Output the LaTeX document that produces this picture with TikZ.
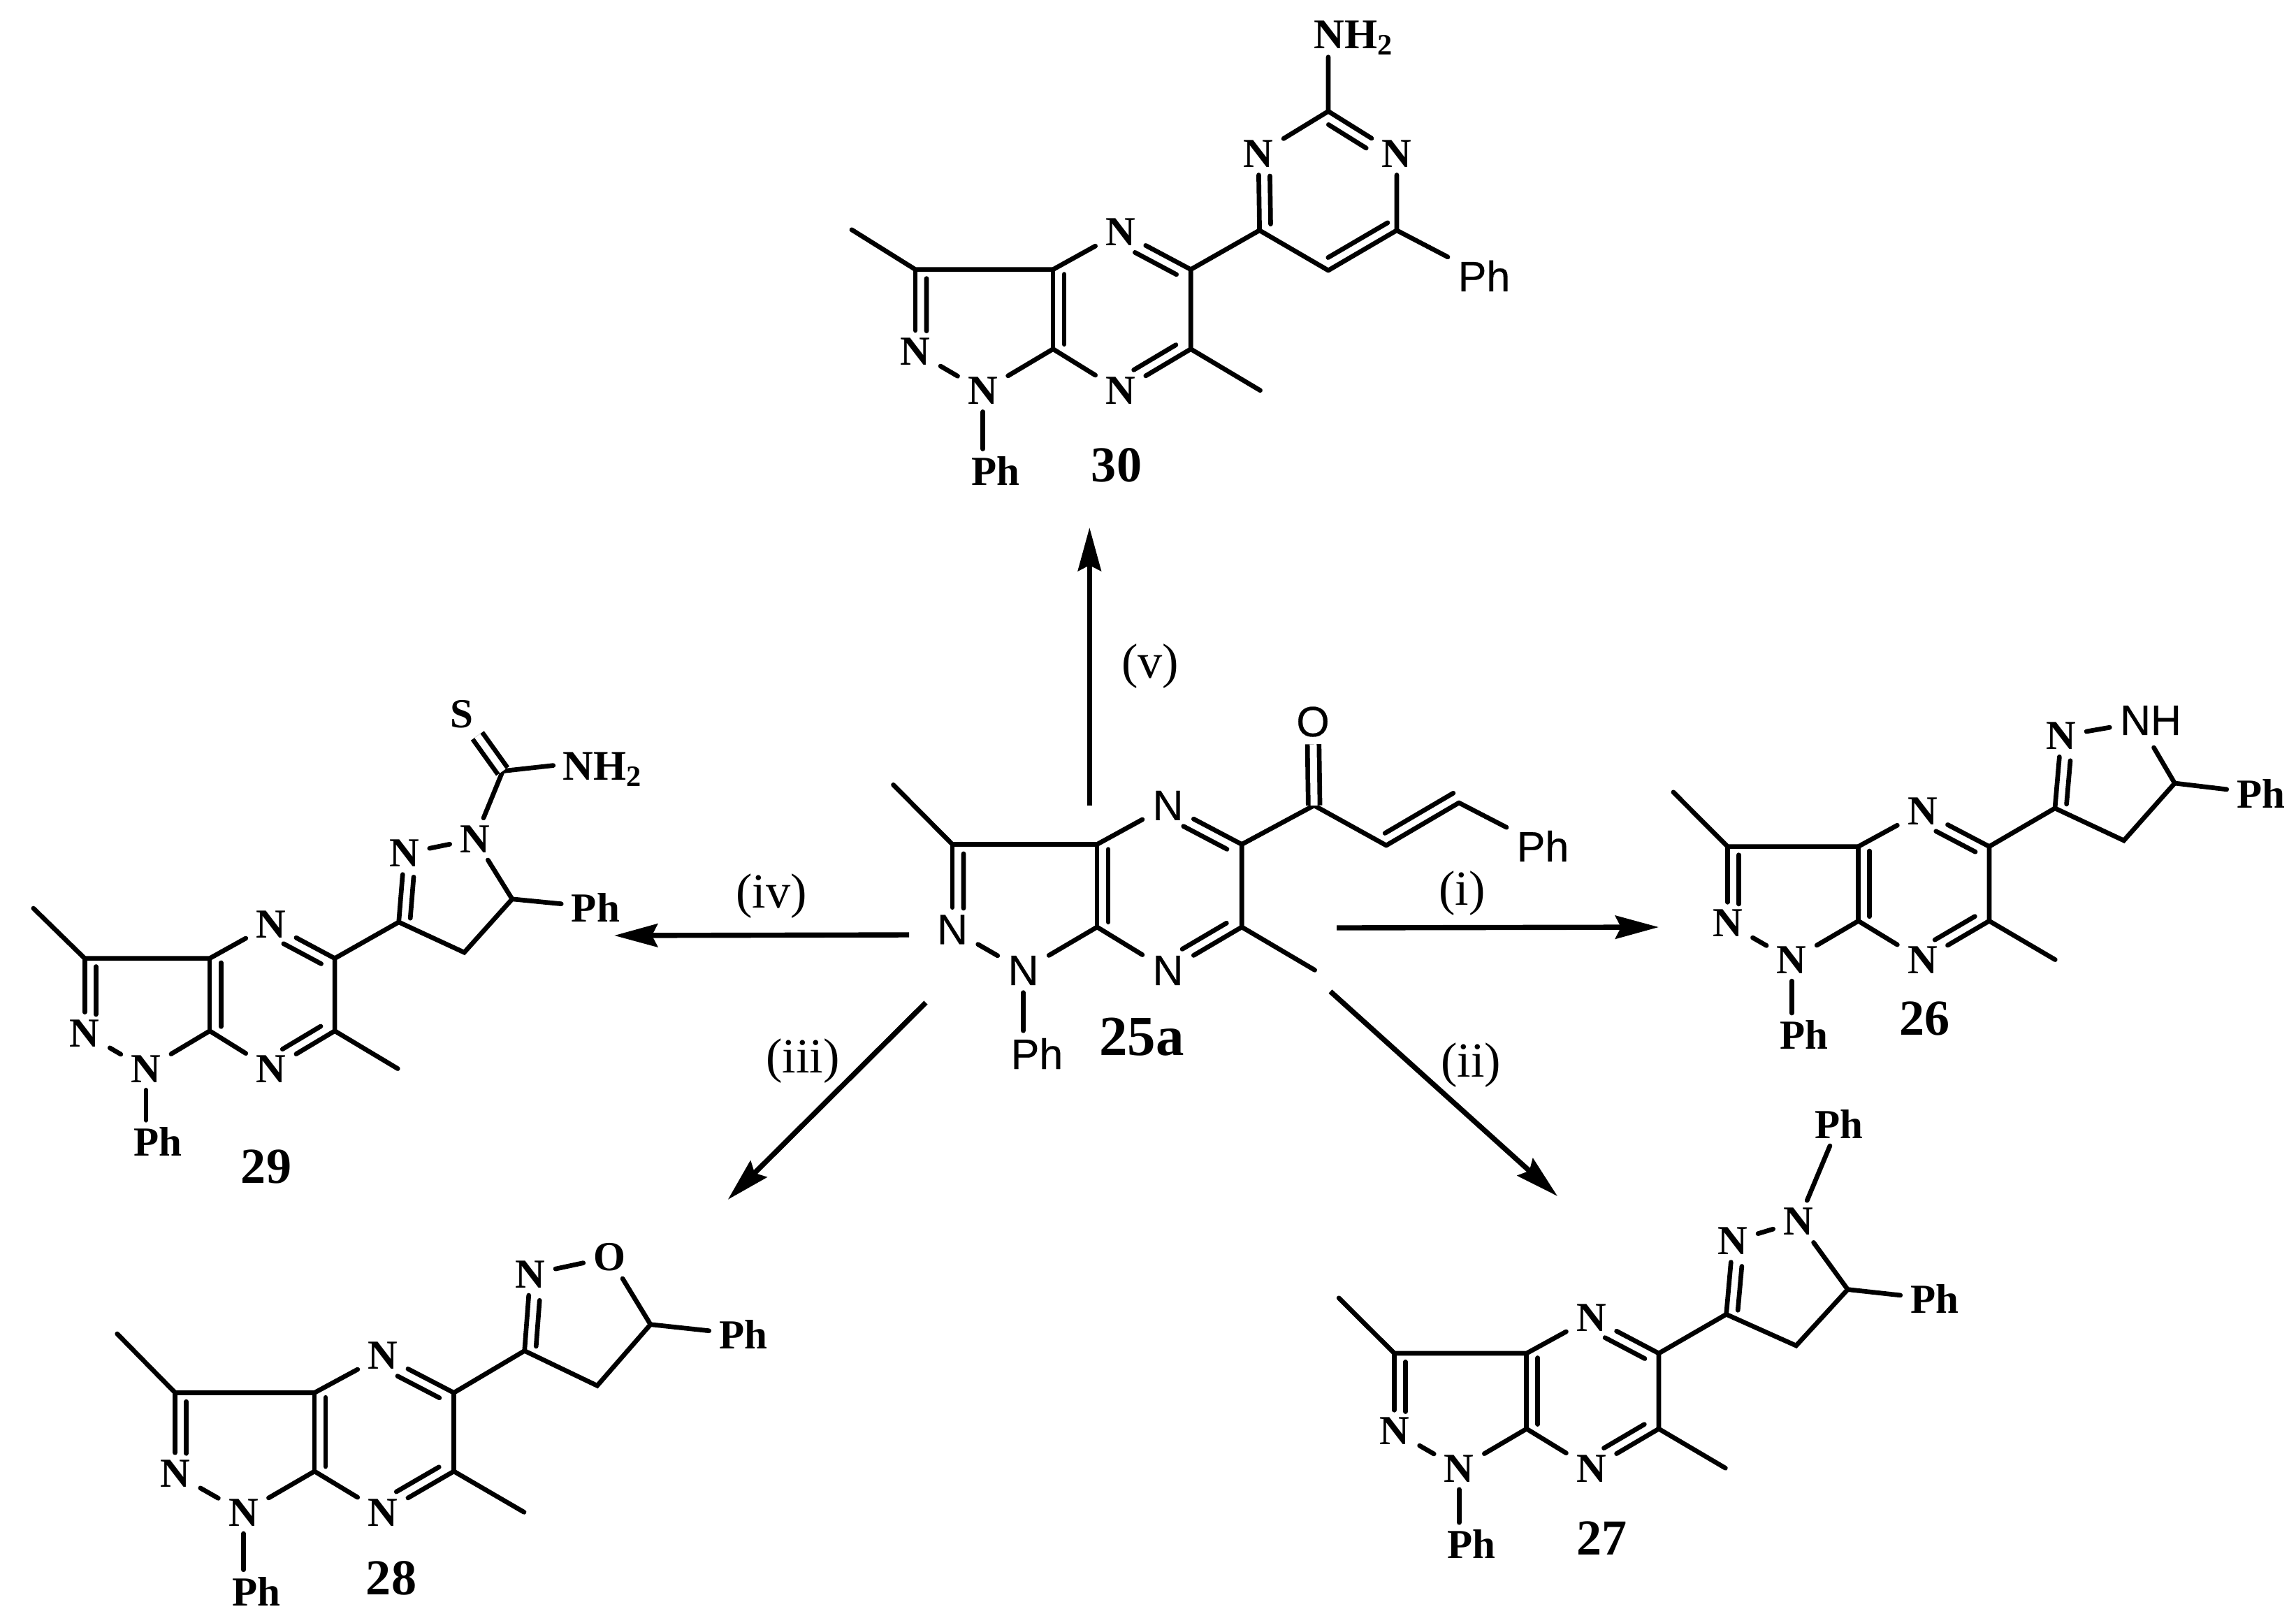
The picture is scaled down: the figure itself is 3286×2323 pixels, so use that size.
\documentclass[tikz,border=0pt]{standalone}
\usepackage{fontspec}
\setmainfont{Liberation Serif}
\setsansfont{Liberation Sans}[FakeBold=.4]
\usetikzlibrary{arrows.meta,calc}
\tikzset{atom/.style = {font=\bfseries\fontsize{16.8}{18}\selectfont, inner xsep=.14cm, inner ysep=.1cm},
         sansatom/.style = {font=\sffamily\fontsize{17.3}{19}\selectfont, inner xsep=.14cm, inner ysep=.1cm},
         amine/.style = {font=\bfseries\fontsize{17.2}{19}\selectfont, anchor=base west, inner sep=0pt},
         bond/.style = {line width=1.9pt, line cap=round},
         cbond/.style = {line width=1.9pt, line cap=butt, double, double distance=.1cm},
         react/.style = {-{Stealth[length=.62cm,width=.33cm,inset=.08cm]}, line width=2.1pt},
         molnum/.style = {font=\bfseries\fontsize{20.5}{22}\selectfont},
         cond/.style = {font=\fontsize{20}{22}\selectfont}}
\newcommand{\dbond}[4]{\draw[bond](#1)--(#2);
  \draw[bond]($(#1)!#3!(#2)!.16cm!90:(#2)$)--($(#1)!#4!(#2)!.16cm!-90:(#1)$);}
\newcommand{\pzcore}[7]{
  \begin{scope}[shift={(#2,#3)},x=#4cm,y=-#5cm]
    \coordinate(#1c3)at(0,0);
    \coordinate(#1c3a)at(.5,0);
    \coordinate(#1c5)at(1,0);
    \coordinate(#1c6)at(1,1);
    \coordinate(#1c7a)at(.5,1);
    \coordinate(#1mea)at(#6,#7);
    \coordinate(#1meb)at(1.252,1.52);
    \node[atom](#1n4)at(.745,-.47){N};
    \node[atom](#1n7)at(.745,1.525){N};
    \node[atom](#1n1)at(.245,1.525){N};
    \node[atom](#1n2)at(0,1.03){N};
    \node[atom](#1ph)at(.292,2.53){Ph};
  \end{scope}
  \draw[bond](#1mea)--(#1c3)--(#1c3a)--(#1n4);
  \draw[bond](#1c5)--(#1c6)--(#1meb);
  \draw[bond](#1n2)--(#1n1)--(#1c7a)--(#1n7);
  \draw[bond](#1n1)--(#1n1|-#1ph.north);
  \dbond{#1c3}{#1n2}{.11}{.75}
  \dbond{#1c3a}{#1c7a}{.06}{.94}
  \dbond{#1c5}{#1n4}{.13}{.72}
  \dbond{#1n7}{#1c6}{.27}{.87}}
\begin{document}
\begin{tikzpicture}[x=.01cm,y=-.01cm]
    \useasboundingbox(0,0)rectangle(3286,2323);

    % 25a
    \begin{scope}[atom/.style=sansatom]
        \pzcore{a}{1363}{1208.5}{4.14}{1.183}{-.204}{-.72}
    \end{scope}
    \coordinate(ac8)at(1880.7,1152.8);
    \coordinate(ac9)at(1984,1210);
    \coordinate(ac10)at(2088,1149);
    \node[sansatom](ao)at(1879,1033){O};
    \node[sansatom](aph2)at(2208,1211){Ph};
    \node[molnum,font=\bfseries\fontsize{23}{25}\selectfont](alabel)at(1634,1484){25a};
    \draw[bond](ac5)--(ac8)--(ac9);
    \draw[bond](ac10)--(aph2);
    \draw[cbond](ac8)--(ao);
    \dbond{ac9}{ac10}{.06}{1}

    % 30
    \pzcore{b}{1310}{385.7}{3.94}{1.138}{-.231}{-.5}
    \coordinate(bc8)at(1802.6,329.7);
    \coordinate(bc9)at(1901,159.3);
    \coordinate(bc10)at(1999,329.7);
    \coordinate(bc11)at(1901,387);
    \coordinate(bnhend)at(1901,81.7);
    \node[atom](bn8)at(1801,220.4){N};
    \node[atom](bn9)at(1999,220.4){N};
    \node[amine](bnh)at(1880,69){NH\textsubscript{2}};
    \node[sansatom](bph2)at(2124,394.9){Ph};
    \node[molnum](blabel)at(1598,665.8){30};
    \draw[bond](bc5)--(bc8)--(bc11);
    \draw[bond](bn8)--(bc9)--(bnhend);
    \draw[bond](bn9)--(bc10)--(bph2);
    \dbond{bn8}{bc8}{.29}{.92}
    \dbond{bn9}{bc9}{.36}{.91}
    \dbond{bc11}{bc10}{.08}{.95}

    % 26
    \pzcore{c}{2472.4}{1211.6}{3.743}{1.065}{-.207}{-.73}
    \coordinate(cc8)at(2941,1156.8);
    \coordinate(cc9)at(3039.6,1203);
    \coordinate(cc10)at(3112.4,1121);
    \coordinate(cnhend)at(3082.5,1070);
    \node[atom](cn8)at(2950,1053.2){N};
    \node[sansatom](cnh)at(3078,1031){NH};
    \node[atom](cph2)at(3236,1135.7){Ph};
    \node[molnum](clabel)at(2754.8,1457.6){26};
    \draw[bond](cc5)--(cc8)--(cc9)--(cc10)--(cnhend);
    \draw[bond](cn8)--(cnh);
    \draw[bond](cc10)--(cph2);
    \dbond{cn8}{cc8}{.33}{.93}

    % 27
    \pzcore{d}{1995.6}{1937}{3.782}{1.08}{-.21}{-.733}
    \coordinate(dc8)at(2470.6,1881.2);
    \coordinate(dc9)at(2570.6,1926);
    \coordinate(dc10)at(2644.4,1845.6);
    \node[atom](dn8)at(2480,1776.5){N};
    \node[atom](dn9)at(2573.7,1748.3){N};
    \node[atom](dph2)at(2769,1859.3){Ph};
    \node[atom](dph3)at(2632,1608.7){Ph};
    \node[molnum](dlabel)at(2292.5,2201.4){27};
    \draw[bond](dc5)--(dc8)--(dc9)--(dc10)--(dn9)--(dn8);
    \draw[bond](dc10)--(dph2);
    \draw[bond](dn9)--(dph3);
    \dbond{dn8}{dc8}{.33}{.93}

    % 28
    \pzcore{e}{250.7}{1993.4}{3.986}{1.124}{-.208}{-.75}
    \coordinate(ec8)at(750.7,1933.4);
    \coordinate(ec9)at(854.7,1983.3);
    \coordinate(ec10)at(931,1895.7);
    \node[atom](en8)at(759,1823.9){N};
    \node[atom](eo)at(872.5,1799.5){O};
    \node[atom](eph2)at(1063.9,1910){Ph};
    \node[molnum](elabel)at(560,2259){28};
    \draw[bond](ec5)--(ec8)--(ec9)--(ec10)--(eo)--(en8);
    \draw[bond](ec10)--(eph2);
    \dbond{en8}{ec8}{.33}{.93}

    % 29
    \pzcore{f}{121.2}{1371.7}{3.577}{1.038}{-.205}{-.69}
    \coordinate(fc8)at(570.7,1319.8);
    \coordinate(fc9)at(664.4,1363.2);
    \coordinate(fc10)at(733,1286.8);
    \coordinate(fc11)at(719.5,1103.6);
    \coordinate(fnhend)at(791.8,1095.6);
    \node[atom](fn8)at(578.7,1221.6){N};
    \node[atom](fn9)at(679.7,1200.9){N};
    \node[atom](fs)at(661.4,1022.5){S};
    \node[amine](fnh)at(805,1116){NH\textsubscript{2}};
    \node[atom](fph2)at(852.4,1298.5){Ph};
    \node[molnum](flabel)at(381,1670){29};
    \draw[bond](fc5)--(fc8)--(fc9)--(fc10)--(fn9)--(fn8);
    \draw[bond](fc10)--(fph2);
    \draw[bond](fn9)--(fc11)--(fnhend);
    \draw[cbond](fc11)--(fs);
    \dbond{fn8}{fc8}{.33}{.93}

    % arrows
    \coordinate(ri)at(1913,1328);
    \coordinate(pi)at(2374,1327);
    \coordinate(rii)at(1904,1419);
    \coordinate(pii)at(2229,1712);
    \coordinate(riii)at(1325,1435);
    \coordinate(piii)at(1041.7,1717);
    \coordinate(riv)at(1301,1338);
    \coordinate(piv)at(879,1339);
    \coordinate(rv)at(1559.3,1153);
    \coordinate(pv)at(1559.3,755);
    \draw[react](ri)--(pi);
    \draw[react](rii)--(pii);
    \draw[react](riii)--(piii);
    \draw[react](riv)--(piv);
    \draw[react](rv)--(pv);
    \node[cond](ci)at(2092.6,1279){(i)};
    \node[cond](cii)at(2105,1525){(ii)};
    \node[cond](ciii)at(1149,1519){(iii)};
    \node[cond](civ)at(1104,1283){(iv)};
    \node[cond](cv)at(1646,954){(v)};
\end{tikzpicture}
\end{document}
